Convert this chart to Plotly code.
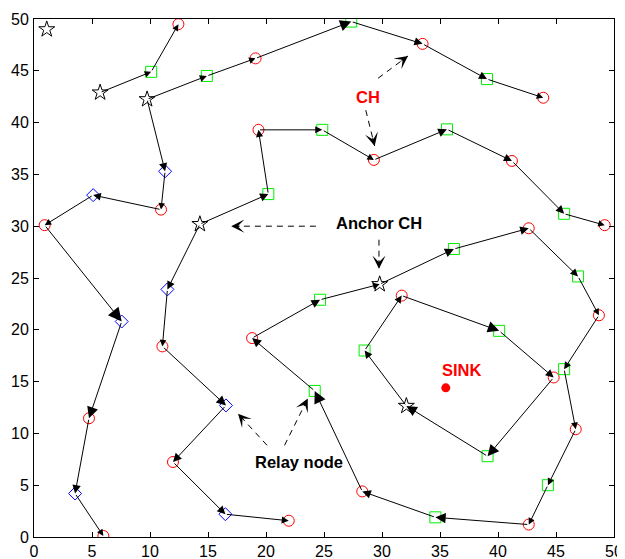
import math
import plotly.graph_objects as go

# ---------------- data ----------------
ANCHOR_X = [1.1, 5.7, 9.75, 14.3, 29.8, 32.1]
ANCHOR_Y = [49.0, 42.9, 42.25, 30.2, 24.4, 12.65]

CH_X = [12.45, 19.1, 33.5, 43.9, 19.35, 29.3, 41.2, 49.2, 42.65, 48.7, 44.8, 46.7,
        42.65, 28.3, 18.8, 31.7, 10.95, 0.92, 4.74, 5.98, 11.07, 11.98, 21.96]
CH_Y = [49.5, 46.2, 47.6, 42.4, 39.3, 36.4, 36.3, 30.1, 29.8, 21.4, 15.4, 10.4,
        1.2, 4.4, 19.2, 23.3, 31.6, 30.1, 11.46, 0.1, 18.4, 7.24, 1.57]

MEMBER_X = [10.1, 14.9, 27.35, 39.05, 24.85, 35.6, 45.7, 20.2, 36.2, 46.9, 24.66,
            28.5, 40.1, 45.7, 44.3, 34.6, 39.1, 24.2]
MEMBER_Y = [44.9, 44.5, 49.75, 44.2, 39.3, 39.35, 31.2, 33.1, 27.8, 25.15, 22.9,
            18.0, 19.9, 16.2, 5.0, 1.9, 7.8, 14.1]

RELAY_X = [11.3, 5.1, 7.56, 3.54, 11.5, 16.55, 16.5]
RELAY_Y = [35.3, 33.0, 20.8, 4.2, 23.9, 12.7, 2.2]

SINK_X = [35.5]
SINK_Y = [14.4]

# routes: sequences of node ids (type letter + index)
ROUTES = [
    ["A1", "S0", "C0"],
    ["A2", "S1", "C1", "S2", "C2", "S3", "C3"],
    ["A2", "R0", "C16", "R1", "C17", "R2", "C18", "R3", "C19"],
    ["A3", "S7", "C4", "S4", "C5", "S5", "C6", "S6", "C7"],
    ["A3", "R4", "C20", "R5", "C21", "R6", "C22"],
    ["A4", "S8", "C8", "S9", "C9", "S13", "C11", "S14", "C12", "S15", "C13",
     "S17", "C14", "S10", "A4"],
    ["A5", "S11", "C15", "S12", "C10", "S16", "A5"],
]

# text labels
LABEL_TEXT = ["CH", "Anchor CH", "Relay node", "SINK"]
LABEL_X = [28.8, 29.75, 22.85, 36.9]
LABEL_Y = [42.5, 30.3, 7.25, 16.1]
LABEL_COLOR = ["#ff0000", "#000000", "#000000", "#ff0000"]

# dashed pointer arrows (start -> tip)
PTR_X0 = [29.66, 28.6, 24.3, 29.74, 20.09, 21.6]
PTR_Y0 = [44.28, 41.2, 30.0, 28.7, 8.85, 8.85]
PTR_X1 = [32.24, 29.37, 17.0, 29.74, 17.59, 23.6]
PTR_Y1 = [46.43, 37.74, 30.0, 25.9, 11.9, 13.36]

TICKS = [0, 5, 10, 15, 20, 25, 30, 35, 40, 45, 50]

# ---------------- figure ----------------
# the page body keeps an 8px default margin, so the figure is shrunk by it
W, H = 617, 551
ML, MR, MT, MB = 26, 11, 11, 22
PX_X = (W - ML - MR) / 50.0
PX_Y = (H - MT - MB) / 50.0
FONT = "Liberation Sans, Arial, Helvetica, sans-serif"

NODES = {"A": (ANCHOR_X, ANCHOR_Y), "C": (CH_X, CH_Y),
         "S": (MEMBER_X, MEMBER_Y), "R": (RELAY_X, RELAY_Y)}


def node(nid):
    xs, ys = NODES[nid[0]]
    i = int(nid[1:])
    return xs[i], ys[i]


fig = go.Figure()
annotations = []

# route arrows
for route in ROUTES:
    for a, b in zip(route[:-1], route[1:]):
        x0, y0 = node(a)
        x1, y1 = node(b)
        L = math.hypot((x1 - x0) * PX_X, (y1 - y0) * PX_Y)
        size = max(1.3, 0.022 * L)
        annotations.append(dict(
            x=x1, y=y1, ax=x0, ay=y0, xref="x", yref="y", axref="x", ayref="y",
            text="", showarrow=True, arrowhead=2, arrowsize=size, arrowwidth=1,
            arrowcolor="black"))

# dashed pointers
for x0, y0, x1, y1 in zip(PTR_X0, PTR_Y0, PTR_X1, PTR_Y1):
    fig.add_trace(go.Scatter(x=[x0, x1], y=[y0, y1], mode="lines",
                             line=dict(color="black", width=1, dash="6px,5px"),
                             hoverinfo="skip", showlegend=False))
    dx, dy = (x0 - x1) * PX_X, (y0 - y1) * PX_Y
    L = math.hypot(dx, dy)
    f = 10.0 / L
    annotations.append(dict(
        x=x1, y=y1, ax=x1 + (x0 - x1) * f, ay=y1 + (y0 - y1) * f,
        xref="x", yref="y", axref="x", ayref="y", text="", showarrow=True,
        arrowhead=3, arrowsize=2.2, arrowwidth=1, arrowcolor="black"))

# labels
for t, x, y, c in zip(LABEL_TEXT, LABEL_X, LABEL_Y, LABEL_COLOR):
    annotations.append(dict(x=x, y=y, xref="x", yref="y", text="<b>%s</b>" % t,
                            showarrow=False,
                            font=dict(family=FONT, size=16.5, color=c)))

# markers
fig.add_trace(go.Scatter(x=CH_X, y=CH_Y, mode="markers", showlegend=False,
                         marker=dict(symbol="circle-open", size=11, color="#ff0000",
                                     line=dict(width=1))))
fig.add_trace(go.Scatter(x=MEMBER_X, y=MEMBER_Y, mode="markers", showlegend=False,
                         marker=dict(symbol="square-open", size=11, color="#00ee00",
                                     line=dict(width=1))))
fig.add_trace(go.Scatter(x=RELAY_X, y=RELAY_Y, mode="markers", showlegend=False,
                         marker=dict(symbol="diamond-open", size=10, color="#0000ff",
                                     line=dict(width=1))))
fig.add_trace(go.Scatter(x=ANCHOR_X, y=ANCHOR_Y, mode="markers", showlegend=False,
                         marker=dict(symbol="star-open", size=12, color="black",
                                     line=dict(width=1))))
fig.add_trace(go.Scatter(x=SINK_X, y=SINK_Y, mode="markers", showlegend=False,
                         marker=dict(symbol="circle", size=9, color="#ff0000")))

axis_common = dict(range=[0, 50], tickvals=TICKS, ticks="inside", ticklen=5,
                   tickcolor="black", showline=True, linecolor="black", linewidth=1,
                   mirror="allticks", showgrid=False, zeroline=False,
                   automargin=False,
                   tickfont=dict(family=FONT, size=16, color="black"))

fig.update_layout(
    width=W, height=H,
    margin=dict(l=ML, r=MR, t=MT, b=MB),
    paper_bgcolor="white", plot_bgcolor="white",
    xaxis=dict(axis_common, ticklabelstandoff=0),
    yaxis=dict(axis_common, ticklabelstandoff=1),
    annotations=annotations,
)

fig.write_html("out.html")
